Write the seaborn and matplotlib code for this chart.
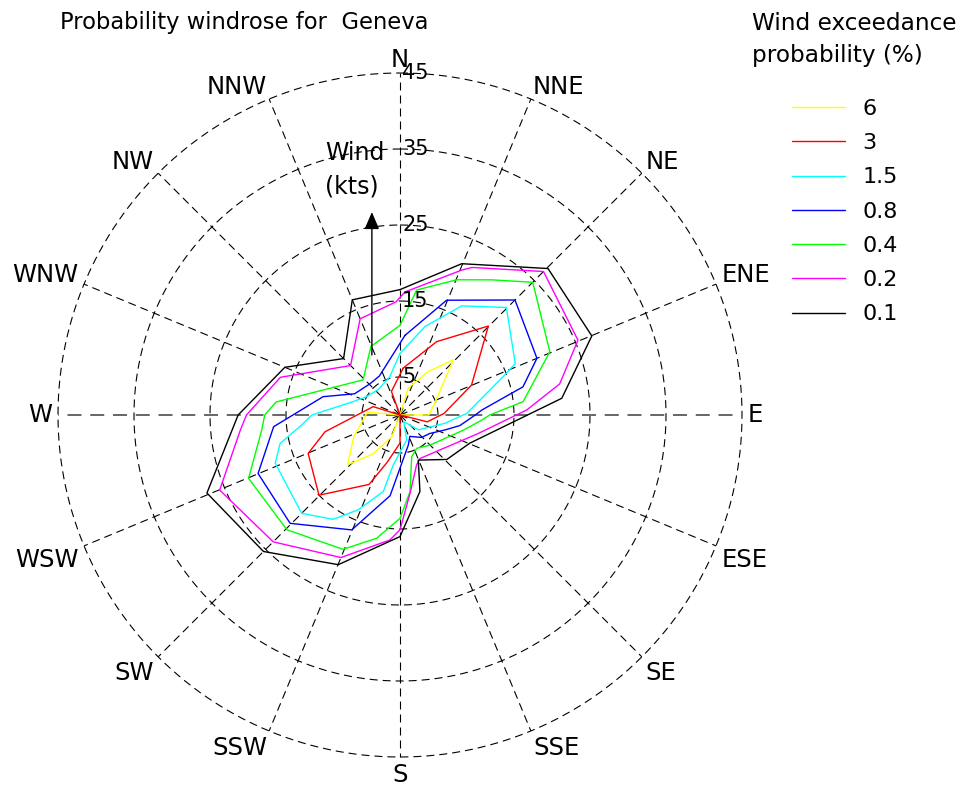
import numpy as np
import pandas as pd
import matplotlib
matplotlib.use("Agg")
import matplotlib.pyplot as plt
import seaborn as sns

# Exceedance levels (%) and their line colours
levels = ["6", "3", "1.5", "0.8", "0.4", "0.2", "0.1"]
colors = ["#ffff00", "#ff0000", "#00ffff", "#0000ff", "#00ff00", "#ff00ff", "#000000"]

# Contour vertices: compass bearing (deg, clockwise from N) and wind speed (kts)
bearing_6 = [17, 33, 44, 68, 90, 135, 201, 215, 226.5, 245, 275, 315]
speed_6 = [3.7, 6.8, 10.1, 5.1, 3.8, 0.0, 3.1, 6.3, 9.5, 6.7, 4.3, 0.0]

bearing_3 = [4, 26.6, 44.8, 67.3, 88, 104, 140, 180, 195, 204, 225.3, 247.3, 257.4, 287.3, 315, 340]
speed_3 = [6.2, 10.8, 16.5, 10.2, 5.8, 3.7, 0.0, 3.7, 6.4, 10.0, 15.0, 13.1, 10.1, 3.7, 0.0, 3.3]

bearing_1_5 = [0, 15.8, 29.5, 44.7, 66, 69, 88.6, 100.5, 129, 150, 165, 187.6, 192.3, 203.7,
               212.6, 225, 248.9, 256.7, 264.2, 270, 286, 299, 320, 345]
speed_1_5 = [8.1, 12.1, 16.5, 19.9, 16.6, 14.8, 8.8, 6.0, 3.1, 1.0, 3.4, 6.6, 10.3, 13.6,
             16.3, 18.3, 17.6, 16.2, 13.0, 11.6, 6.4, 5.0, 4.4, 5.2]

bearing_0_8 = [3.6, 22.1, 45, 67.5, 77.1, 86.5, 90, 100, 108, 122, 136, 155.3, 164.5, 187,
               202.8, 225.4, 247.6, 264.7, 283.4, 295, 316, 332]
speed_0_8 = [10.5, 16.3, 21.4, 19.5, 16.6, 10.8, 9.9, 8.0, 6.3, 4.6, 4.1, 3.1, 4.1, 10.7,
             16.4, 20.3, 20.2, 16.7, 10.4, 6.6, 5.7, 5.8]

bearing_0_4 = [0, 7.6, 22.8, 34.2, 45, 67.1, 83.8, 90, 93.5, 103.3, 135, 153.4, 164.3, 172.6,
               180, 190.7, 203, 224.6, 247.3, 263.8, 270, 276, 313.6, 337]
speed_0_4 = [11.8, 16.6, 19.3, 21.5, 24.7, 21.4, 16.3, 11.8, 10.8, 8.6, 5.6, 4.9, 5.7, 10.2,
             13.6, 16.5, 19.2, 21.2, 21.6, 18.3, 17.8, 16.4, 6.7, 9.8]

bearing_0_2 = [2.3, 23, 26, 45, 67.2, 79, 87.7, 103.2, 155.2, 161.5, 172.7, 180, 184.6, 202.5,
               225, 247.4, 264.6, 270, 287.5, 315, 337.5, 358]
speed_0_2 = [16.2, 20.7, 21.6, 26.7, 25.4, 21.4, 16.7, 10.6, 6.3, 6.9, 10.4, 15.1, 16.5, 20.3,
             23.6, 25.7, 21.1, 20.2, 16.5, 9.2, 13.7, 14.9]

bearing_0_1 = [0, 22.2, 45.3, 67.6, 84.1, 112, 133.5, 157.9, 165.4, 180, 202.4, 225, 248, 270,
               292.5, 315, 337.5]
speed_0_1 = [16.5, 21.5, 27.4, 27.3, 21.4, 9.9, 8.5, 6.4, 10.4, 16.0, 21.3, 25.4, 27.4, 21.3,
             16.4, 10.5, 16.4]

bearings = [bearing_6, bearing_3, bearing_1_5, bearing_0_8, bearing_0_4, bearing_0_2, bearing_0_1]
speeds = [speed_6, speed_3, speed_1_5, speed_0_8, speed_0_4, speed_0_2, speed_0_1]

# Compass grid
directions = ["N", "NNE", "NE", "ENE", "E", "ESE", "SE", "SSE",
              "S", "SSW", "SW", "WSW", "W", "WNW", "NW", "NNW"]
ring_speeds = [5, 15, 25, 35, 45]
r_max = 45
r_label = 45.75  # direction names sit just outside the outer ring

sns.set_style("white")
plt.rcParams["font.family"] = ["DejaVu Sans"]
plt.rcParams["text.color"] = "black"

W, H = 970, 785
cx, cy, R = 400, 415, 342  # centre and 45-kt radius in pixels
fig = plt.figure(figsize=(W / 100, H / 100), dpi=100)
ax = fig.add_axes([(cx - R) / W, (H - cy - R) / H, 2 * R / W, 2 * R / H], projection="polar")
ax.set_theta_zero_location("N")
ax.set_theta_direction(-1)
ax.set_ylim(0, r_max)
ax.grid(False)
ax.set_xticks([])
ax.set_yticks([])
ax.spines["polar"].set_visible(False)

dash = (0, (7.2, 4.5))
grid_kw = dict(lw=0.8, linestyle=dash, clip_on=False, zorder=1)
full_circle = np.linspace(0, 2 * np.pi, 721)
for r in ring_speeds:
    ax.plot(full_circle, np.full_like(full_circle, r), color="black", **grid_kw)
for i, name in enumerate(directions):
    deg = i * 22.5
    th = np.deg2rad(deg)
    east_west = name in ("E", "W")
    ax.plot([th, th], [0, r_max], color="0.4" if east_west else "black",
            **{**grid_kw, "lw": 1.4 if east_west else 0.8})
    sx, cyy = np.sin(th), np.cos(th)
    ha = "left" if sx > 0.01 else ("right" if sx < -0.01 else "center")
    va = "baseline" if cyy > 0.01 else ("top" if cyy < -0.01 else "center")
    ax.text(th, r_label, name, ha=ha, va=va, fontsize=17.5)

for r in ring_speeds:
    ax.annotate(str(r), xy=(0, r), xytext=(1.5, 0), textcoords="offset points",
                ha="left", va="center", fontsize=15, zorder=5)

# Probability contours
handles = []
for lev, col, brg, spd in zip(levels, colors, bearings, speeds):
    th = np.deg2rad(np.r_[brg, brg[0]])
    sp = np.r_[spd, spd[0]]
    df = pd.DataFrame({"theta": th, "speed": sp})
    sns.lineplot(data=df, x="theta", y="speed", sort=False, estimator=None,
                 color=col, lw=1.0, ax=ax, zorder=3)
    handles.append(ax.lines[-1])
ax.set_xlabel("")
ax.set_ylabel("")


def polar_xy(x, y):
    """Cartesian (east, north) kts -> (theta, r) for the compass axes."""
    return np.arctan2(x, y), np.hypot(x, y)


# Speed-axis arrow and its label
ax.annotate("", xy=polar_xy(-3.7, 26.7), xytext=polar_xy(-3.7, 7.9),
            arrowprops=dict(arrowstyle="-|>,head_length=0.7,head_width=0.3",
                            mutation_scale=15, color="black", lw=1.0,
                            shrinkA=0, shrinkB=0), zorder=4)
ax.text(*polar_xy(-9.9, 33.5), "Wind", ha="left", va="baseline", fontsize=17, zorder=5)
ax.text(*polar_xy(-9.9, 29.1), "(kts)", ha="left", va="baseline", fontsize=17, zorder=5)

fig.text(60 / W, 1 - 29.5 / H, "Probability windrose for  Geneva", ha="left",
         va="baseline", fontsize=16.3)
fig.text(752 / W, 1 - 29.5 / H, "Wind exceedance", ha="left", va="baseline", fontsize=16.7)
fig.text(752 / W, 1 - 62 / H, "probability (%)", ha="left", va="baseline", fontsize=16.7)

leg = fig.legend(handles, levels, loc="upper left", bbox_to_anchor=(792 / W, 1 - 99 / H),
                 frameon=False, fontsize=16, borderpad=0, borderaxespad=0,
                 handlelength=2.37, handletextpad=0.8, labelspacing=0.64)
for t in leg.get_texts():
    t.set_color("black")

fig.savefig("out.png", dpi=100)
